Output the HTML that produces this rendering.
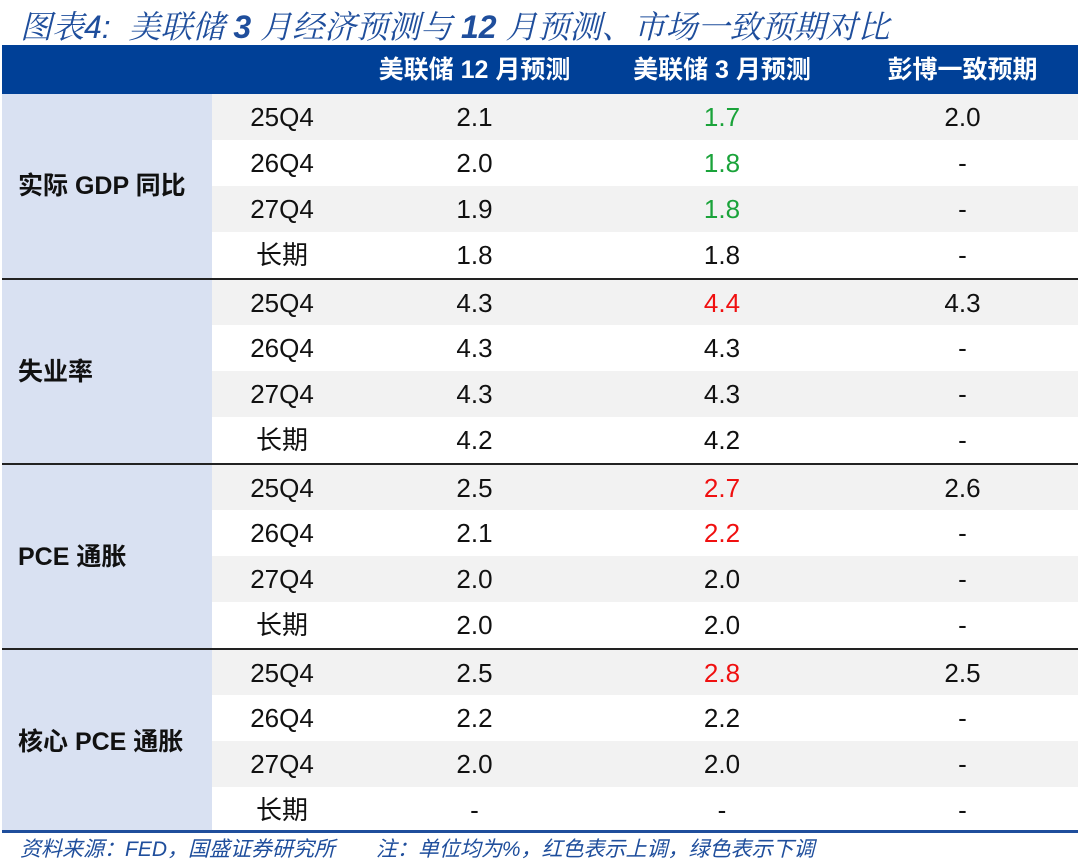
<!DOCTYPE html>
<html><head><meta charset="utf-8"><style>
body{margin:0;width:1080px;height:864px;background:#fff;position:relative;font-family:"Liberation Sans","Noto Sans CJK SC",sans-serif;overflow:hidden}
.title{position:absolute;left:20px;top:2px;font-size:32px;font-style:italic;color:#1f4e9c;font-family:"Liberation Sans","Noto Serif CJK SC",serif;white-space:nowrap}
table{position:absolute;left:2px;top:45px;width:1076px;border-collapse:collapse;table-layout:fixed}
td,th{padding:0;text-align:center;font-size:26px;color:#111;line-height:30px}
th{background:#004097;color:#fff;height:49px;font-weight:bold;font-size:25px}
td{height:46px}
td.g{background:#d9e1f2;text-align:left;padding-left:16px;font-weight:bold;font-size:25px}
tr.a td{background:#f2f2f2}
tr.a td.g{background:#d9e1f2}
tr.top td{border-top:2px solid #222;height:45px}
.gr{color:#1aa33a}.rd{color:#f01010}
.foot{position:absolute;left:20px;top:833px;font-size:21px;font-style:italic;color:#1f4e9c;white-space:nowrap}
.bl{position:absolute;left:2px;top:830px;width:1076px;height:3px;background:#1f4e9c}
</style></head><body>
<div class="title">图表4:&nbsp; 美联储 <b>3</b> 月经济预测与 <b>12</b> 月预测、市场一致预期对比</div>
<table>
<colgroup><col style="width:210px"><col style="width:140px"><col style="width:245px"><col style="width:250px"><col></colgroup>
<tr><th></th><th></th><th>美联储 12 月预测</th><th>美联储 3 月预测</th><th>彭博一致预期</th></tr>
<tr class="a"><td class="g" rowspan="4">实际 GDP 同比</td><td>25Q4</td><td>2.1</td><td class="gr">1.7</td><td>2.0</td></tr>
<tr><td>26Q4</td><td>2.0</td><td class="gr">1.8</td><td>-</td></tr>
<tr class="a"><td>27Q4</td><td>1.9</td><td class="gr">1.8</td><td>-</td></tr>
<tr><td>长期</td><td>1.8</td><td>1.8</td><td>-</td></tr>
<tr class="a top"><td class="g" rowspan="4">失业率</td><td>25Q4</td><td>4.3</td><td class="rd">4.4</td><td>4.3</td></tr>
<tr><td>26Q4</td><td>4.3</td><td>4.3</td><td>-</td></tr>
<tr class="a"><td>27Q4</td><td>4.3</td><td>4.3</td><td>-</td></tr>
<tr><td>长期</td><td>4.2</td><td>4.2</td><td>-</td></tr>
<tr class="a top"><td class="g" rowspan="4">PCE 通胀</td><td>25Q4</td><td>2.5</td><td class="rd">2.7</td><td>2.6</td></tr>
<tr><td>26Q4</td><td>2.1</td><td class="rd">2.2</td><td>-</td></tr>
<tr class="a"><td>27Q4</td><td>2.0</td><td>2.0</td><td>-</td></tr>
<tr><td>长期</td><td>2.0</td><td>2.0</td><td>-</td></tr>
<tr class="a top"><td class="g" rowspan="4">核心 PCE 通胀</td><td>25Q4</td><td>2.5</td><td class="rd">2.8</td><td>2.5</td></tr>
<tr><td>26Q4</td><td>2.2</td><td>2.2</td><td>-</td></tr>
<tr class="a"><td>27Q4</td><td>2.0</td><td>2.0</td><td>-</td></tr>
<tr><td>长期</td><td>-</td><td>-</td><td>-</td></tr>
</table>
<div class="bl"></div>
<div class="foot">资料来源：FED，国盛证券研究所&nbsp;&nbsp;&nbsp;&nbsp;&nbsp;&nbsp; 注：单位均为%，红色表示上调，绿色表示下调</div>
</body></html>
